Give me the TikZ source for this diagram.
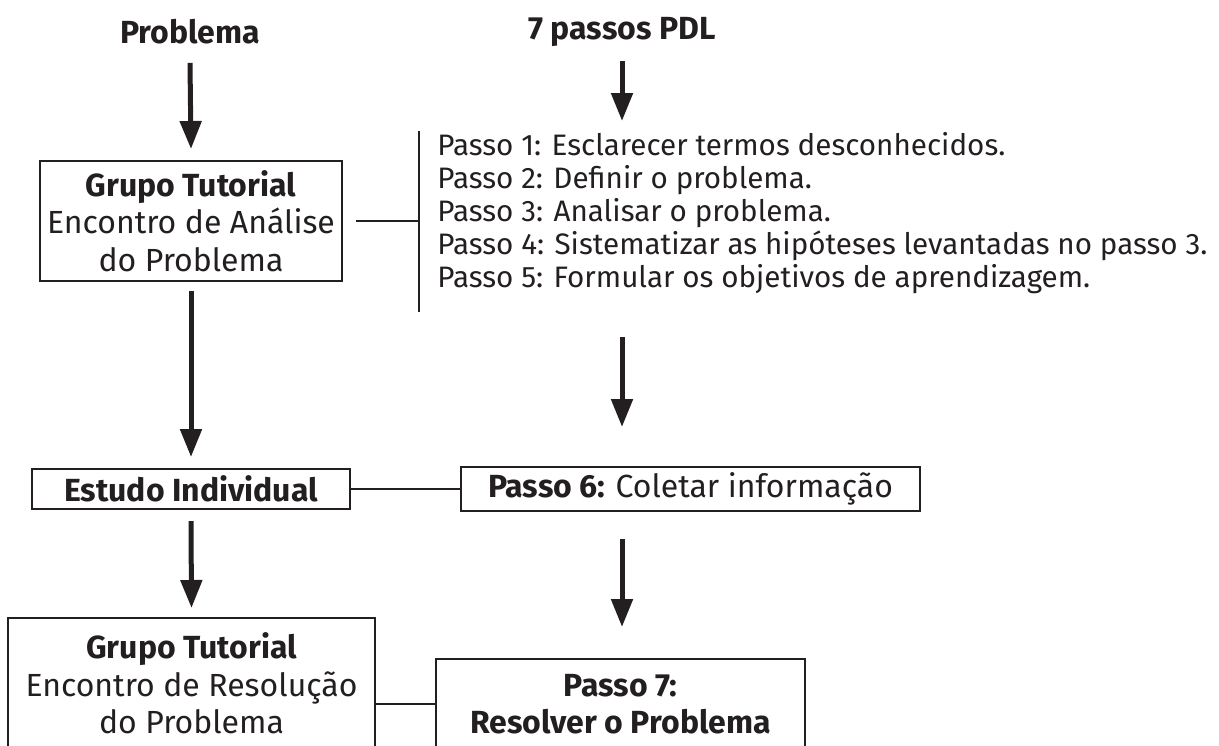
\documentclass[tikz,border=0pt]{standalone}
\usepackage{fontspec}
\setmainfont{Fira Sans}
\usetikzlibrary{arrows.meta}
\definecolor{tinta}{HTML}{231F20}
\newcommand\letra{\fontsize{16}{18.75}\selectfont}
\newcommand\lista{\fontsize{14.8}{16.5}\selectfont}
\begin{document}
\begin{tikzpicture}[x=0.5pt, y=-0.5pt,
    every node/.style={text=tinta, font=\letra, inner sep=0pt},
    caixa/.style={draw=tinta, line width=1pt, align=center},
    seta/.style={draw=tinta, line width=2.5pt, -{Triangle[length=14pt,width=10.5pt]}},
    liga/.style={draw=tinta, line width=1pt}]
    \useasboundingbox (0,0) rectangle (1219,745);
    \clip (0,0) rectangle (1219,745);
    % titulos
    \node (prob) at (190,32) {\bfseries Problema};
    \node (passos) at (622,32) {\bfseries 7 passos PDL};
    % caixas
    \node[caixa, minimum width=151pt, minimum height=60pt] (g1) at (191,221)
        {\bfseries Grupo Tutorial\\Encontro de Análise\\do Problema};
    \node[anchor=west, align=left, font=\lista] (passos15) at (437,213)
        {Passo 1: Esclarecer termos desconhecidos.\\
         Passo 2: Definir o problema.\\
         Passo 3: Analisar o problema.\\
         Passo 4: Sistematizar as hipóteses levantadas no passo 3.\\
         Passo 5: Formular os objetivos de aprendizagem.};
    \coordinate (barTop) at (419,131);
    \coordinate (barBot) at (419,312);
    \node[caixa, minimum width=159pt, minimum height=20pt] (est) at (191,489)
        {\bfseries Estudo Individual};
    \node[caixa, minimum width=229.5pt, minimum height=22pt] (p6) at (690.5,489)
        {\bfseries Passo 6: \mdseries Coletar informação};
    \node[caixa, minimum width=183.5pt, minimum height=65.5pt] (g2) at (191.5,683.5)
        {\bfseries Grupo Tutorial\\Encontro de Resolução\\do Problema};
    \node[caixa, minimum width=184.5pt, minimum height=45pt] (p7) at (620.5,704)
        {\bfseries Passo 7:\\ \bfseries Resolver o Problema};
    % setas
    \draw[seta] ([yshift=-9pt]prob.south) -- ([yshift=5.5pt]g1.north);
    \draw[seta] ([yshift=-7pt]passos.south) -- ([yshift=5pt]passos |- barTop);
    \draw[seta] ([yshift=-4.5pt]g1.south) -- ([yshift=5.5pt]est.north);
    \draw[seta] ([yshift=-12.5pt]passos |- barBot) -- ([yshift=19.5pt]passos |- p6.north);
    \draw[seta] ([yshift=-5.5pt]est.south) -- ([yshift=4.5pt]g2.north);
    \draw[seta] ([yshift=-13.5pt]passos |- p6.south) -- ([yshift=15.5pt]passos |- p7.north);
    % ligacoes
    \draw[liga] (barTop) -- (barBot);
    \draw[liga] ([xshift=6.5pt]g1.east) -- (g1.east -| barTop);
    \draw[liga] (est.east) -- (p6.west);
    \draw[liga] (p7.west) -- (p7.west -| g2.east);
\end{tikzpicture}
\end{document}
